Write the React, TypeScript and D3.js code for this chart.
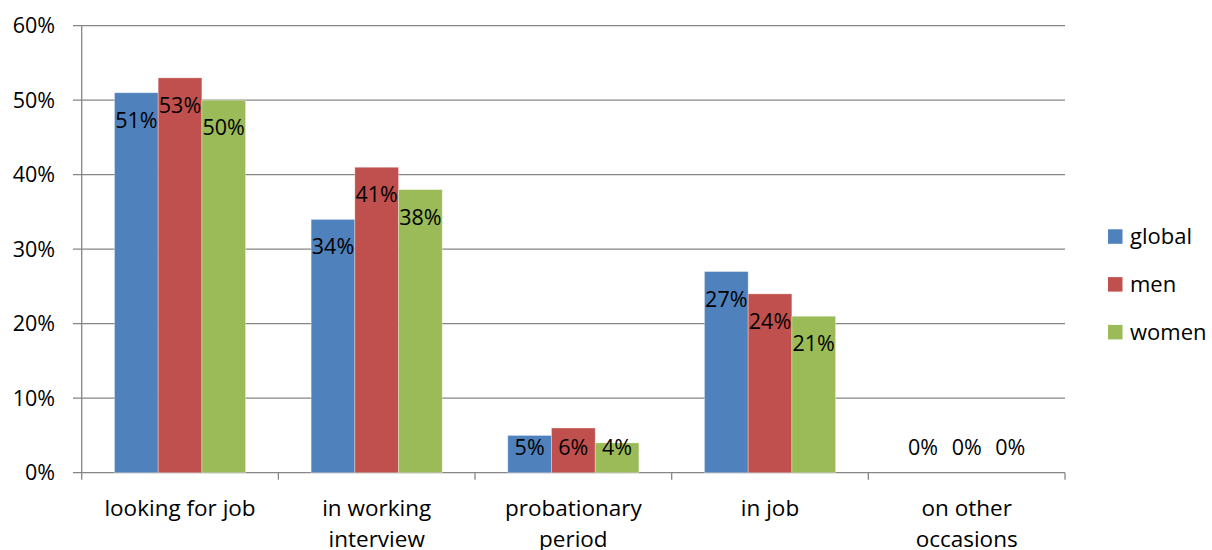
import React from "react";
import * as d3 from "d3";

const categories = [["looking for job"], ["in working", "interview"], ["probationary", "period"], ["in job"], ["on other", "occasions"]];
const seriesNames = ["global", "men", "women"];
const globalValues = [0.51, 0.34, 0.05, 0.27, 0];
const menValues = [0.53, 0.41, 0.06, 0.24, 0];
const womenValues = [0.50, 0.38, 0.04, 0.21, 0];
const yTicks = [0, 0.1, 0.2, 0.3, 0.4, 0.5, 0.6];
const colors = ["#4F81BD", "#C0504D", "#9BBB59"];

const W = 1212, H = 550;
const FONT = "'Open Sans', sans-serif";

export default function App() {
  const series = [globalValues, menValues, womenValues];
  const catKeys = categories.map((c) => c.join(" "));
  const x = d3.scaleBand<string>().domain(catKeys).range([81.7, 1065]).padding(0);
  const xs = d3.scaleBand<string>().domain(seriesNames).range([0, x.bandwidth()]).paddingInner(0).paddingOuter(0.75);
  const y = d3.scaleLinear().domain([0, 0.6]).range([472.7, 25.7]);
  const fmt = d3.format(".0%");
  const y0 = y(0);
  const gridColor = "#868686";

  return (
    <svg width={W} height={H} style={{ position: "absolute", left: 0, top: 0, background: "#fff" }} fontFamily={FONT}>
      <rect x={0} y={0} width={W} height={H} fill="#fff" />
      {yTicks.map((t) => (
        <g key={t}>
          <line x1={73} x2={1065} y1={y(t)} y2={y(t)} stroke={gridColor} strokeWidth={1.3} />
          <text x={55} y={y(t)} dy="0.36em" textAnchor="end" fontSize={21.5} fill="#000">{fmt(t)}</text>
        </g>
      ))}
      <line x1={81.7} x2={81.7} y1={y(0.6)} y2={y0 + 7} stroke={gridColor} strokeWidth={1.3} />
      {catKeys.map((k) => (
        <line key={"t" + k} x1={(x(k) as number) + x.bandwidth()} x2={(x(k) as number) + x.bandwidth()} y1={y0} y2={y0 + 7} stroke={gridColor} strokeWidth={1.3} />
      ))}
      {series.map((vals, si) => (
        <g key={si}>
          {vals.map((v, ci) => {
            const bx = (x(catKeys[ci]) as number) + (xs(seriesNames[si]) as number);
            const top = y(v);
            return (
              <rect key={ci} x={bx} y={top} width={xs.bandwidth()} height={y0 - top} fill={colors[si]} stroke="#ffffff" strokeOpacity={0.4} strokeWidth={0.8} />
            );
          })}
        </g>
      ))}
      {series.map((vals, si) => (
        <g key={"l" + si}>
          {vals.map((v, ci) => {
            const bx = (x(catKeys[ci]) as number) + (xs(seriesNames[si]) as number) + xs.bandwidth() / 2;
            const base = Math.min(y(v) + 35, y0 - 18);
            return (
              <text key={ci} x={bx} y={base} textAnchor="middle" fontSize={21.5} fill="#000">{fmt(v)}</text>
            );
          })}
        </g>
      ))}
      {categories.map((lines, ci) => (
        <text key={ci} x={(x(catKeys[ci]) as number) + x.bandwidth() / 2} y={516} textAnchor="middle" fontSize={22.5} fill="#000">
          {lines.map((ln, li) => (
            <tspan key={li} x={(x(catKeys[ci]) as number) + x.bandwidth() / 2} dy={li === 0 ? 0 : 31}>{ln}</tspan>
          ))}
        </text>
      ))}
      {seriesNames.map((s, i) => (
        <g key={s} transform={`translate(1108, ${229.3 + i * 47.8})`}>
          <rect x={0} y={0} width={14.5} height={14.5} fill={colors[i]} />
          <text x={22} y={15} fontSize={22} fill="#000">{s}</text>
        </g>
      ))}
    </svg>
  );
}
